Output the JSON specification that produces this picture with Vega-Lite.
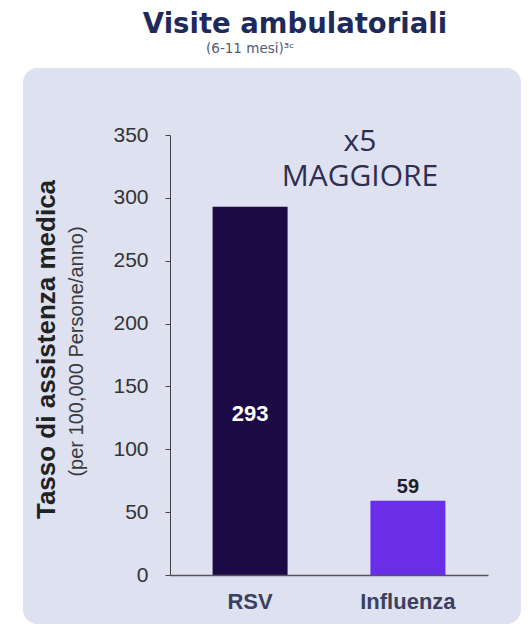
{
  "$schema": "https://vega.github.io/schema/vega-lite/v6.json",
  "width": 318,
  "height": 440,
  "autosize": {"type": "none"},
  "padding": {"left": 170, "top": 135, "right": 43, "bottom": 54},
  "background": "white",
  "title": {
    "text": "Visite ambulatoriali",
    "anchor": "middle",
    "frame": "group",
    "dx": -34,
    "offset": 3,
    "font": "DejaVu Sans",
    "fontSize": 27.5,
    "fontWeight": "bold",
    "color": "#1f2a5c"
  },
  "config": {"view": {"stroke": null}},
  "datasets": {
    "visite": [
      {"gruppo": "RSV", "tasso": 293},
      {"gruppo": "Influenza", "tasso": 59}
    ]
  },
  "data": {"name": "visite"},
  "resolve": {"scale": {"x": "independent"}, "axis": {"y": "independent"}},
  "layer": [
    {
      "mark": {"type": "rect", "color": "#dde1f0", "cornerRadius": 15},
      "encoding": {
        "x": {"datum": -0.4623, "type": "quantitative", "scale": {"domain": [0, 1], "nice": false, "zero": false}, "axis": null},
        "x2": {"datum": 1.1038},
        "y": {
          "datum": -39,
          "type": "quantitative",
          "scale": {"domain": [0, 350], "nice": false},
          "axis": {
            "orient": "left",
            "zindex": 1,
            "title": "(per 100,000 Persone/anno)",
            "labels": false,
            "ticks": false,
            "domain": false,
            "grid": false,
            "titleX": -94,
            "titleY": 216,
            "titleAngle": -90,
            "titleAlign": "center",
            "titleBaseline": "middle",
            "titleFont": "Liberation Sans",
            "titleFontSize": 20,
            "titleFontWeight": "normal",
            "titleColor": "#3a3a3a"
          }
        },
        "y2": {"datum": 403.3}
      }
    },
    {
      "encoding": {
        "x": {
          "field": "gruppo",
          "type": "nominal",
          "scale": {"domain": ["RSV", "Influenza"], "paddingInner": 0.525, "paddingOuter": 0.27},
          "axis": {
            "zindex": 1,
            "title": null,
            "labelAngle": 0,
            "ticks": false,
            "tickSize": 0,
            "labelFont": "Liberation Sans",
            "labelFontSize": 22,
            "labelFontWeight": "bold",
            "labelColor": "#3b405f",
            "labelPadding": 16,
            "domainColor": "#555555",
            "domainWidth": 1.5
          }
        }
      },
      "layer": [
        {
          "mark": {"type": "bar"},
          "encoding": {
            "y": {
              "field": "tasso",
              "type": "quantitative",
              "scale": {"domain": [0, 350], "nice": false},
              "axis": {
                "orient": "left",
                "zindex": 1,
                "values": [0, 50, 100, 150, 200, 250, 300, 350],
                "grid": false,
                "tickSize": 5,
                "tickColor": "#444444",
                "domainColor": "#444444",
                "labelFont": "Liberation Sans",
                "labelFontSize": 21,
                "labelColor": "#333333",
                "labelPadding": 17,
                "title": "Tasso di assistenza medica",
                "titleFont": "Liberation Sans",
                "titleFontSize": 26,
                "titleFontWeight": "bold",
                "titleColor": "#222222",
                "titleX": -124,
                "titleY": 214,
                "titleAngle": -90,
                "titleAlign": "center",
                "titleBaseline": "middle"
              }
            },
            "color": {
              "field": "gruppo",
              "type": "nominal",
              "scale": {"domain": ["RSV", "Influenza"], "range": ["#1b0a44", "#6a2ee8"]},
              "legend": null
            }
          }
        },
        {
          "transform": [{"filter": "datum.gruppo === 'RSV'"}],
          "mark": {"type": "text", "font": "Liberation Sans", "fontSize": 22, "fontWeight": "bold", "color": "white", "baseline": "alphabetic"},
          "encoding": {
            "y": {"datum": 122.5, "type": "quantitative"},
            "text": {"field": "tasso", "type": "quantitative"}
          }
        },
        {
          "transform": [{"filter": "datum.gruppo === 'Influenza'"}],
          "mark": {"type": "text", "font": "Liberation Sans", "fontSize": 20, "fontWeight": "bold", "color": "#1e1e2e", "baseline": "alphabetic", "dy": -8},
          "encoding": {
            "y": {"field": "tasso", "type": "quantitative"},
            "text": {"field": "tasso", "type": "quantitative"}
          }
        },
        {
          "transform": [{"filter": "datum.gruppo === 'RSV'"}],
          "mark": {"type": "text", "text": ["x5", "MAGGIORE"], "font": "Open Sans", "fontSize": 30, "color": "#2f2d50", "align": "center", "baseline": "alphabetic", "lineHeight": 35, "dx": -48},
          "encoding": {
            "x": {"datum": "Influenza"},
            "y": {"datum": 337, "type": "quantitative"}
          }
        },
        {
          "transform": [{"filter": "datum.gruppo === 'RSV'"}],
          "mark": {"type": "text", "text": "(6-11 mesi)³ᶜ", "font": "DejaVu Sans", "fontSize": 13.5, "color": "#555a78", "align": "center", "baseline": "middle"},
          "encoding": {
            "x": {"datum": "RSV"},
            "y": {"datum": 418.8, "type": "quantitative"}
          }
        }
      ]
    }
  ]
}
